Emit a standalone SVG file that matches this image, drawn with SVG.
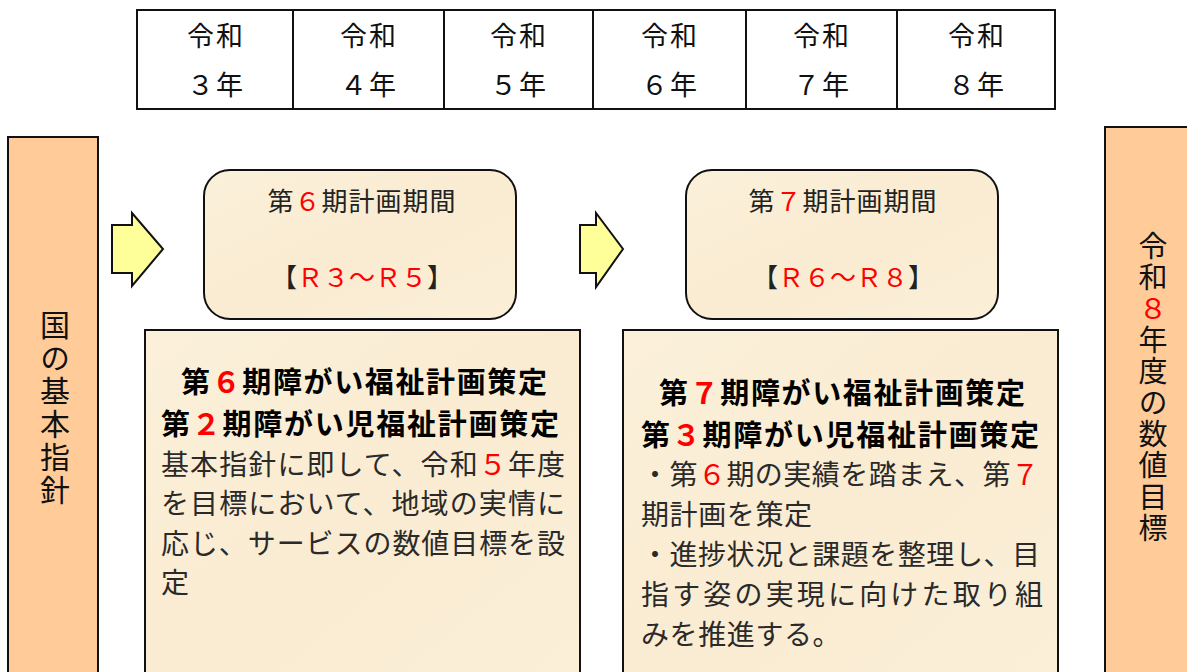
<svg xmlns="http://www.w3.org/2000/svg" width="1187" height="672" viewBox="0 0 1187 672">
<defs>
<style>
.jp{font-family:"Noto Sans CJK JP","Noto Sans CJK SC",sans-serif;}
.tbl{font-size:27px;fill:#111;text-anchor:middle;letter-spacing:2px;}
.bar{fill:#FFCC99;stroke:#111;stroke-width:2;}
.parch{fill:url(#parch);stroke:#111;stroke-width:2;}
.arrow{fill:#FFFF99;stroke:#111;stroke-width:2;stroke-linejoin:miter;}
.vt{fill:#111;writing-mode:vertical-rl;text-orientation:upright;}
.per{font-size:26px;fill:#222;text-anchor:middle;letter-spacing:1px;}
.hd{font-size:29px;font-weight:bold;fill:#000;}
.bd{font-size:28px;fill:#2a2a2a;}
.red{fill:#FF0000;}
</style>
<linearGradient id="parch" x1="0" y1="0" x2="1" y2="1">
<stop offset="0" stop-color="#FBF0DA"/>
<stop offset="0.5" stop-color="#FAECD2"/>
<stop offset="1" stop-color="#FBEFD8"/>
</linearGradient>
</defs>
<rect x="0" y="0" width="1187" height="672" fill="#FFFFFF"/>

<g id="year-table">
<rect x="137" y="10" width="918" height="99" fill="#FFFFFF" stroke="#111" stroke-width="2"/>
<g stroke="#111" stroke-width="2">
<line x1="293" y1="10" x2="293" y2="109"/>
<line x1="444" y1="10" x2="444" y2="109"/>
<line x1="593" y1="10" x2="593" y2="109"/>
<line x1="746" y1="10" x2="746" y2="109"/>
<line x1="897" y1="10" x2="897" y2="109"/>
</g>
<g class="jp tbl">
<text x="216" y="46">令和</text><text x="216" y="95">３年</text>
<text x="369" y="46">令和</text><text x="369" y="95">４年</text>
<text x="519" y="46">令和</text><text x="519" y="95">５年</text>
<text x="670" y="46">令和</text><text x="670" y="95">６年</text>
<text x="822" y="46">令和</text><text x="822" y="95">７年</text>
<text x="977" y="46">令和</text><text x="977" y="95">８年</text>
</g>
</g>

<g id="national-guideline">
<rect class="bar" x="8" y="137" width="90" height="545"/>
<text class="jp vt" x="55" y="310" style="font-size:30px;letter-spacing:3px">国の基本指針</text>
</g>

<g id="numeric-target">
<rect class="bar" x="1105" y="127" width="92" height="555"/>
<text class="jp vt" x="1153" y="231" style="font-size:29px;letter-spacing:2.4px">令和<tspan class="red">８</tspan>年度の数値目標</text>
</g>

<g id="period6">
<rect class="parch" x="204" y="170" width="312" height="149" rx="26" ry="26"/>
<text class="jp per" x="362" y="211">第<tspan class="red">６</tspan>期計画期間</text>
<text class="jp per" x="362" y="287" style="letter-spacing:0">【<tspan class="red">Ｒ３～Ｒ５</tspan>】</text>
</g>

<g id="period7">
<rect class="parch" x="686" y="170" width="312" height="149" rx="26" ry="26"/>
<text class="jp per" x="843" y="211">第<tspan class="red">７</tspan>期計画期間</text>
<text class="jp per" x="843" y="287" style="letter-spacing:0">【<tspan class="red">Ｒ６～Ｒ８</tspan>】</text>
</g>

<g id="plan6">
<rect class="parch" x="145" y="330" width="435" height="352"/>
<text class="jp hd" x="181" y="393" textLength="366" lengthAdjust="spacing">第<tspan class="red">６</tspan>期障がい福祉計画策定</text>
<text class="jp hd" x="161" y="435" textLength="398" lengthAdjust="spacing">第<tspan class="red">２</tspan>期障がい児福祉計画策定</text>
<text class="jp bd" x="161" y="475" textLength="404" lengthAdjust="spacing">基本指針に即して、令和<tspan class="red">５</tspan>年度</text>
<text class="jp bd" x="161" y="514" textLength="404" lengthAdjust="spacing">を目標において、地域の実情に</text>
<text class="jp bd" x="161" y="554" textLength="404" lengthAdjust="spacing">応じ、サービスの数値目標を設</text>
<text class="jp bd" x="161" y="593">定</text>
</g>

<g id="plan7">
<rect class="parch" x="623" y="330" width="435" height="352"/>
<text class="jp hd" x="659" y="404" textLength="366" lengthAdjust="spacing">第<tspan class="red">７</tspan>期障がい福祉計画策定</text>
<text class="jp hd" x="641" y="446" textLength="398" lengthAdjust="spacing">第<tspan class="red">３</tspan>期障がい児福祉計画策定</text>
<text class="jp bd" x="641" y="485" textLength="398" lengthAdjust="spacing">・第<tspan class="red">６</tspan>期の実績を踏まえ、第<tspan class="red">７</tspan></text>
<text class="jp bd" x="641" y="525" style="letter-spacing:0.6px">期計画を策定</text>
<text class="jp bd" x="641" y="565" textLength="399" lengthAdjust="spacing">・進捗状況と課題を整理し、目</text>
<text class="jp bd" x="641" y="605" textLength="402" lengthAdjust="spacing">指す姿の実現に向けた取り組</text>
<text class="jp bd" x="641" y="645" style="letter-spacing:0.6px">みを推進する。</text>
</g>

<g id="connectors">
<polygon class="arrow" points="112,225 132,225 132,213 163,249 132,286 132,273 112,273"/>
<polygon class="arrow" points="580,225 596,225 596,213 623,249 596,287 596,273 580,273"/>
</g>
</svg>
